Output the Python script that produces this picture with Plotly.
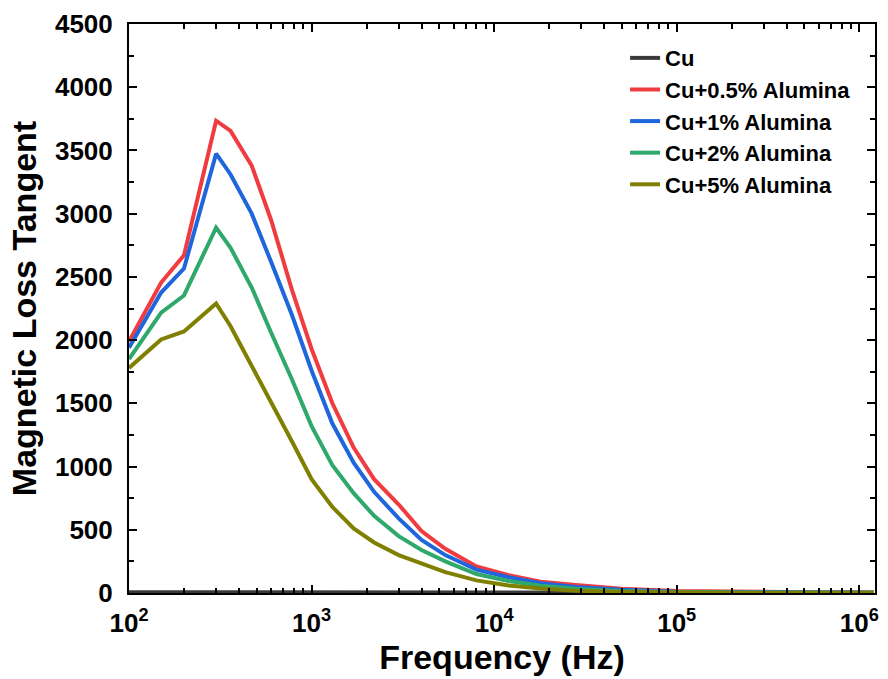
import plotly.graph_objects as go

# Frequency sweep (Hz)
freq = [100, 150, 200, 300, 360, 470, 600, 780, 1000, 1300, 1700, 2200, 3000,
        4000, 5400, 8000, 12000, 18000, 28000, 50000, 100000, 200000, 500000,
        1000000, 1200000]

# Magnetic loss tangent for each composition
cu = [6, 6, 6, 5, 5, 5, 5, 4, 4, 4, 4, 3, 3,
      3, 3, 2, 2, 2, 2, 1, 1, 1, 1, 1, 1]
cu_05 = [1990, 2455, 2670, 3735, 3655, 3380, 2950, 2400, 1930, 1500, 1150, 900, 700,
         490, 350, 210, 140, 90, 63, 34, 16, 10, 6, 4, 4]
cu_1 = [1940, 2376, 2566, 3474, 3310, 3000, 2620, 2200, 1760, 1340, 1030, 800, 590,
        420, 300, 185, 125, 78, 48, 25, 10, 6, 4, 3, 3]
cu_2 = [1850, 2218, 2353, 2890, 2730, 2416, 2060, 1690, 1320, 1010, 790, 610, 450,
        340, 250, 150, 95, 58, 34, 16, 6, 4, 3, 2, 2]
cu_5 = [1780, 2005, 2068, 2290, 2110, 1800, 1500, 1200, 900, 680, 510, 400, 300,
        230, 165, 100, 60, 35, 18, 8, 3, 2, 1, 1, 1]

series_names = ["Cu", "Cu+0.5% Alumina", "Cu+1% Alumina", "Cu+2% Alumina", "Cu+5% Alumina"]
series_values = [cu, cu_05, cu_1, cu_2, cu_5]
series_colors = ["#3a3a3a", "#F03C40", "#1F66DC", "#2FA96B", "#808000"]

x_major = [1e2, 1e3, 1e4, 1e5, 1e6]
x_major_text = ["10<sup>2</sup>", "10<sup>3</sup>", "10<sup>4</sup>", "10<sup>5</sup>", "10<sup>6</sup>"]
x_minor = [m * 10 ** e for e in range(2, 7) for m in range(2, 10) if m * 10 ** e < 1.22e6]

FONT = "Liberation Sans"

fig = go.Figure()
for name, vals, col in zip(series_names, series_values, series_colors):
    fig.add_trace(go.Scatter(x=freq, y=vals, mode="lines", name=name,
                             line=dict(color=col, width=4)))

fig.update_layout(
    width=888, height=679,
    margin=dict(l=129, r=9, t=23, b=86),
    paper_bgcolor="white", plot_bgcolor="white",
    font=dict(family=FONT, color="black"),
    showlegend=True,
    legend=dict(x=0.665, y=0.977, xanchor="left", yanchor="top",
                bgcolor="rgba(0,0,0,0)", borderwidth=0,
                font=dict(family=FONT, size=22, weight=700, color="black"),
                tracegroupgap=0, itemwidth=30),
)

fig.update_xaxes(
    type="log", range=[2, 6.086],
    showline=True, linecolor="black", linewidth=2, mirror="allticks",
    ticks="inside", ticklen=8, tickwidth=2, tickcolor="black",
    tickvals=x_major, ticktext=x_major_text,
    tickfont=dict(family=FONT, size=26, weight=700),
    ticklabelstandoff=6,
    minor=dict(tickvals=x_minor, ticks="inside", ticklen=5, tickwidth=1.5, tickcolor="black"),
    showgrid=False, zeroline=False,
    title=dict(text="Frequency (Hz)", font=dict(family=FONT, size=34, weight=700), standoff=4),
)

fig.update_yaxes(
    range=[0, 4500],
    showline=True, linecolor="black", linewidth=2, mirror="allticks",
    ticks="inside", ticklen=8, tickwidth=2, tickcolor="black",
    dtick=500, tick0=0,
    tickfont=dict(family=FONT, size=26, weight=700),
    ticklabelstandoff=9,
    minor=dict(dtick=250, ticks="inside", ticklen=5, tickwidth=1.5, tickcolor="black"),
    showgrid=False, zeroline=False,
    title=dict(text="Magnetic Loss Tangent", font=dict(family=FONT, size=34, weight=700), standoff=8),
)

fig.write_html("out.html")
